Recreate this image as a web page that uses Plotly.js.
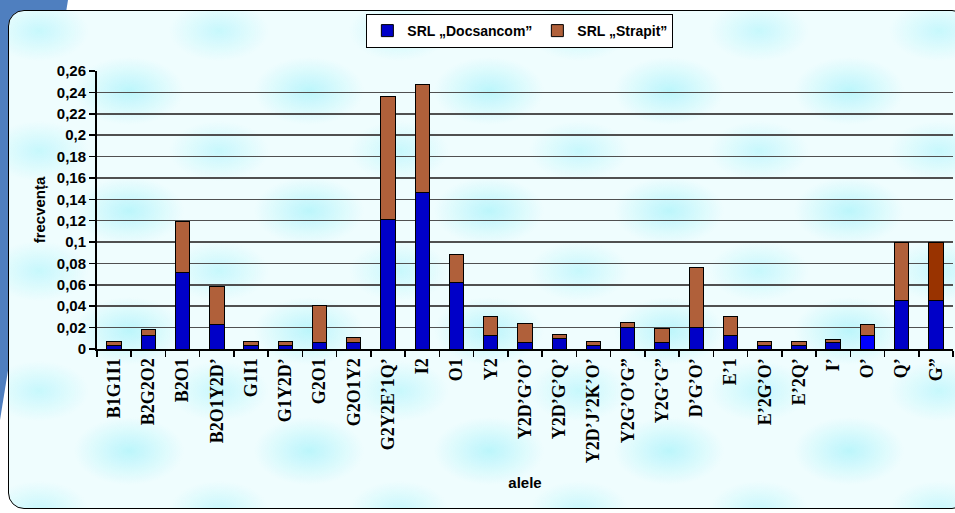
<!DOCTYPE html>
<html>
<head>
<meta charset="utf-8">
<script src="https://cdn.plot.ly/plotly-3.0.1.min.js"></script>
<style>
  html, body { margin: 0; padding: 0; width: 955px; height: 513px; overflow: hidden; background: #ffffff; }
  #blue { position: absolute; left: 0; top: 0; width: 955px; height: 513px;
          background: #4f7fbf; clip-path: polygon(0 0, 68px 0, 0 420px); }
  #frame { position: absolute; left: 8px; top: 10px; width: 960px; height: 499px;
           border: 1.5px solid #000; border-radius: 16px; box-sizing: border-box;
           background-color: #effdfe;
           background-image:
             radial-gradient(ellipse 55px 34px at 50% 50%, rgba(185,245,251,0.95), rgba(185,245,251,0) 100%),
             radial-gradient(ellipse 50px 30px at 50% 50%, rgba(195,247,252,0.9), rgba(195,247,252,0) 100%);
           background-size: 180px 120px, 180px 120px;
           background-position: 30px 20px, 120px 80px; }
  #chart { position: absolute; left: 0; top: 0; width: 955px; height: 513px; }
</style>
</head>
<body>
<div id="blue"></div>
<div id="frame"></div>
<div id="chart"></div>
<script>
const categories = ["B1G1I1", "B2G2O2", "B2O1", "B2O1Y2D’", "G1I1", "G1Y2D’", "G2O1", "G2O1Y2",
  "G2Y2E’1Q’", "I2", "O1", "Y2", "Y2D’G’O’", "Y2D’G’Q’", "Y2D’J’2K’O’", "Y2G’O’G”", "Y2G’G”",
  "D’G’O’", "E’1", "E’2G’O’", "E’2Q’", "I’", "O’", "Q’", "G”"];
const docsancom = [0.003, 0.013, 0.072, 0.023, 0.003, 0.003, 0.006, 0.006,
  0.121, 0.146, 0.062, 0.013, 0.006, 0.010, 0.003, 0.020, 0.006,
  0.020, 0.013, 0.003, 0.003, 0.006, 0.013, 0.045, 0.045];
const strapit = [0.004, 0.005, 0.047, 0.035, 0.004, 0.004, 0.035, 0.005,
  0.115, 0.101, 0.026, 0.017, 0.018, 0.004, 0.004, 0.005, 0.013,
  0.056, 0.017, 0.004, 0.004, 0.003, 0.010, 0.055, 0.055];
const seriesNames = ["SRL „Docsancom”", "SRL „Strapit”"];
const yTicks = [0, 0.02, 0.04, 0.06, 0.08, 0.1, 0.12, 0.14, 0.16, 0.18, 0.2, 0.22, 0.24, 0.26];

const blueCols = categories.map(c => c === "O’" ? "#0000ff" : "#0000c8");
const brownCols = categories.map(c => c === "G”" ? "#993300" : "#b0603a");

const data = [
  { type: "bar", name: seriesNames[0], x: categories, y: docsancom,
    marker: { color: blueCols, line: { color: "#000", width: 1 } }, hoverinfo: "x+y" },
  { type: "bar", name: seriesNames[1], x: categories, y: strapit,
    marker: { color: brownCols, line: { color: "#000", width: 1 } }, hoverinfo: "x+y" }
];

const sans = "Liberation Sans, Arial, sans-serif";
const layout = {
  width: 955, height: 513,
  paper_bgcolor: "rgba(0,0,0,0)", plot_bgcolor: "rgba(0,0,0,0)",
  margin: { l: 97, r: 2, t: 71, b: 164 },
  separators: ",.",
  barmode: "stack",
  bargap: 0.58,
  font: { family: sans, color: "#000" },
  showlegend: true,
  legend: {
    orientation: "h", x: 0.494, xanchor: "center", y: 1.205, yanchor: "top",
    bgcolor: "#ffffff", bordercolor: "#000", borderwidth: 1,
    font: { family: sans, size: 14, weight: "bold", color: "#000" },
    traceorder: "normal", itemwidth: 30, tracegroupgap: 0
  },
  xaxis: {
    type: "category", tickangle: -90, tickson: "boundaries",
    ticks: "outside", ticklen: 6, tickwidth: 1.5, tickcolor: "#000",
    showline: true, linecolor: "#000", linewidth: 2, showgrid: false,
    tickfont: { family: "Liberation Serif, Times New Roman, serif", size: 18, weight: "bold", color: "#000" },
    title: { text: "alele", standoff: 15,
             font: { family: sans, size: 15, weight: "bold", color: "#000" } },
    automargin: false
  },
  yaxis: {
    range: [0, 0.26], tickvals: yTicks,
    ticks: "outside", ticklen: 6, tickwidth: 1.5, tickcolor: "#000",
    showline: true, linecolor: "#000", linewidth: 2,
    showgrid: true, gridcolor: "#505050", gridwidth: 1.5, zeroline: false,
    tickfont: { family: sans, size: 15, weight: "bold", color: "#000" },
    title: { text: "frecvența", standoff: 8,
             font: { family: sans, size: 15, weight: "bold", color: "#000" } },
    automargin: false
  }
};

Plotly.newPlot("chart", data, layout, { displayModeBar: false, staticPlot: true });
</script>
</body>
</html>
